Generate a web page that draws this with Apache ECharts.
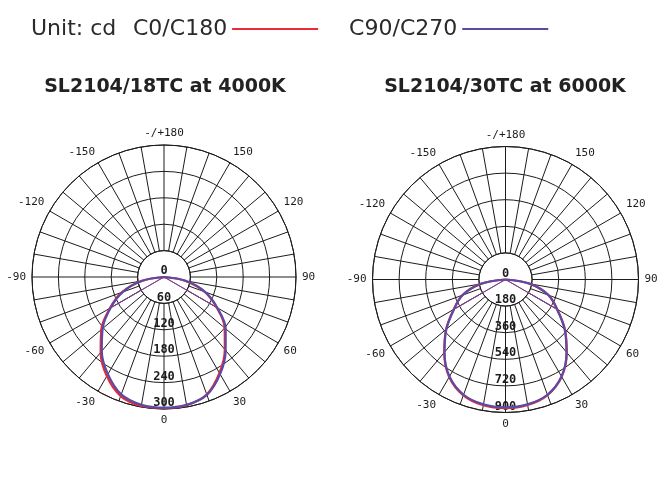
<!DOCTYPE html>
<html>
<head>
<meta charset="utf-8">
<title>SL2104 polar curves</title>
<script src="https://cdn.jsdelivr.net/npm/echarts@6.0.0/dist/echarts.min.js"></script>
<style>
    body { margin: 0; background: #fff; }
    #chart { width: 670px; height: 486px; }
</style>
</head>
<body>
<div id="chart"></div>
<script>
// gamma angles in degrees, 0 = straight down, 90 = right, -/+180 = up
let angles = [-90, -80, -70, -60, -50, -40, -30, -20, -10, 0, 10, 20, 30, 40, 50, 60, 70, 80, 90];

// SL2104/18TC at 4000K (cd)
let left_c0 = [0, 52, 102, 142, 186, 224, 260, 288, 298, 300, 296, 284, 252, 215, 180, 138, 98, 48, 0];
let left_c90 = [0, 50, 100, 140, 182, 220, 255, 284, 295, 297, 295, 285, 255, 218, 183, 140, 100, 50, 0];
// SL2104/30TC at 6000K (cd)
let right_c0 = [0, 170, 310, 405, 525, 645, 762, 834, 864, 870, 862, 832, 760, 645, 525, 405, 310, 170, 0];
let right_c90 = [0, 168, 308, 402, 522, 642, 758, 830, 858, 865, 858, 830, 758, 642, 522, 402, 308, 168, 0];

// straight lines from the centre out to the 60 degree points
let chordAngles = [-60, -90, 90, 60];
let left_chord_c0 = [136, 0, 0, 136];
let left_chord_c90 = [134, 0, 0, 134];
let right_chord_c0 = [400, 0, 0, 400];
let right_chord_c90 = [398, 0, 0, 398];

// ring values
let leftRings = [0, 60, 120, 180, 240, 300];
let rightRings = [0, 180, 360, 540, 720, 900];

// angle tick labels
let angleTickValues = [-180, -150, -120, -90, -60, -30, 0, 30, 60, 90, 120, 150];
let angleTickLabels = ['-/+180', '-150', '-120', '-90', '-60', '-30', '0', '30', '60', '90', '120', '150'];

let titles = ['SL2104/18TC at 4000K', 'SL2104/30TC at 6000K'];
let seriesNames = ['C0/C180', 'C90/C270'];

const red = '#ea2a36';
const purple = '#5b4aa6';
const ink = '#1c1c1c';

// the angle axis runs 0..360 starting at the bottom, so -60 sits at 300
function wrap(a) {
    return a < 0 ? a + 360 : a;
}

function pairs(values, angs) {
    let out = [];
    for (let i = 0; i < values.length; i++) {
        out.push([values[i], wrap(angs[i])]);
    }
    return out;
}

function angleLabel(v) {
    if (v >= 360) return '';
    for (let i = 0; i < angleTickValues.length; i++) {
        if (wrap(angleTickValues[i]) === v) return angleTickLabels[i];
    }
    return '';
}

function mainAngleAxis(polarIndex) {
    return {
        polarIndex: polarIndex,
        type: 'value',
        min: 0,
        max: 360,
        interval: 10,
        startAngle: 270,
        clockwise: false,
        z: 0,
        axisLine: { show: true, lineStyle: { color: ink, width: 1 } },
        axisTick: { show: false },
        splitLine: { show: true, lineStyle: { color: ink, width: 1 } },
        axisLabel: {
            show: true,
            margin: 6,
            color: ink,
            fontFamily: 'DejaVu Sans Mono',
            fontSize: 11,
            formatter: angleLabel
        }
    };
}

// small white disc in the middle, spokes only on the main axes
function innerAngleAxis(polarIndex) {
    return {
        polarIndex: polarIndex,
        type: 'value',
        min: 0,
        max: 360,
        interval: 90,
        startAngle: 270,
        clockwise: false,
        z: 1,
        axisLine: { show: true, lineStyle: { color: ink, width: 1 } },
        axisTick: { show: false },
        axisLabel: { show: false },
        splitLine: { show: true, lineStyle: { color: ink, width: 1 } },
        splitArea: { show: true, areaStyle: { color: ['#ffffff'] } }
    };
}

function mainRadiusAxis(polarIndex, rings) {
    return {
        polarIndex: polarIndex,
        type: 'value',
        min: rings[0],
        max: rings[rings.length - 1],
        interval: rings[1] - rings[0],
        z: 1.5,
        axisLine: { show: false },
        axisTick: { show: false },
        splitLine: { show: true, lineStyle: { color: ink, width: 1 } },
        axisLabel: {
            show: true,
            margin: 0,
            rotate: 0,
            align: 'center',
            verticalAlign: 'bottom',
            color: ink,
            fontFamily: 'DejaVu Sans Mono',
            fontSize: 12,
            fontWeight: 'bold'
        }
    };
}

function innerRadiusAxis(polarIndex) {
    return {
        polarIndex: polarIndex,
        type: 'value',
        min: 0,
        max: 1,
        axisLine: { show: false },
        axisTick: { show: false },
        axisLabel: { show: false },
        splitLine: { show: false }
    };
}

function curve(name, polarIndex, values, color) {
    return {
        name: name,
        type: 'line',
        coordinateSystem: 'polar',
        polarIndex: polarIndex,
        data: pairs(values, angles),
        smooth: 0.35,
        showSymbol: false,
        symbol: 'none',
        z: 3,
        itemStyle: { color: color },
        lineStyle: { color: color, width: 2.2 }
    };
}

function chord(name, polarIndex, values, color) {
    return {
        name: name,
        type: 'line',
        coordinateSystem: 'polar',
        polarIndex: polarIndex,
        data: pairs(values, chordAngles),
        showSymbol: false,
        symbol: 'none',
        z: 3,
        itemStyle: { color: color },
        lineStyle: { color: color, width: 1 }
    };
}

let chart = echarts.init(document.getElementById('chart'));
chart.setOption({
    animation: false,
    backgroundColor: '#ffffff',
    title: [
        {
            text: 'Unit: cd',
            left: 31,
            top: 18,
            padding: 0,
            textStyle: { fontFamily: 'DejaVu Sans', fontSize: 22, fontWeight: 'normal', color: '#2a2a2a' }
        },
        {
            text: titles[0],
            left: 165,
            top: 78,
            textAlign: 'center',
            padding: 0,
            textStyle: { fontFamily: 'DejaVu Sans', fontSize: 19, fontWeight: 'bold', color: '#222' }
        },
        {
            text: titles[1],
            left: 505,
            top: 78,
            textAlign: 'center',
            padding: 0,
            textStyle: { fontFamily: 'DejaVu Sans', fontSize: 19, fontWeight: 'bold', color: '#222' }
        }
    ],
    legend: {
        data: seriesNames,
        left: 133,
        top: 18,
        padding: 0,
        align: 'right',
        icon: 'rect',
        itemWidth: 86,
        itemHeight: 2,
        itemGap: 31,
        selectedMode: false,
        textStyle: {
            fontFamily: 'DejaVu Sans',
            fontSize: 22,
            fontWeight: 'normal',
            color: '#2a2a2a',
            padding: [0, 0, 12, 0]
        }
    },
    polar: [
        { center: [164, 277], radius: 132 },
        { center: [164, 277], radius: 26.4 },
        { center: [505.5, 279.5], radius: 133 },
        { center: [505.5, 279.5], radius: 26.6 }
    ],
    angleAxis: [
        mainAngleAxis(0),
        innerAngleAxis(1),
        mainAngleAxis(2),
        innerAngleAxis(3)
    ],
    radiusAxis: [
        mainRadiusAxis(0, leftRings),
        innerRadiusAxis(1),
        mainRadiusAxis(2, rightRings),
        innerRadiusAxis(3)
    ],
    series: [
        curve(seriesNames[0], 0, left_c0, red),
        curve(seriesNames[1], 0, left_c90, purple),
        chord(seriesNames[0], 0, left_chord_c0, red),
        chord(seriesNames[1], 0, left_chord_c90, purple),
        curve(seriesNames[0], 2, right_c0, red),
        curve(seriesNames[1], 2, right_c90, purple),
        chord(seriesNames[0], 2, right_chord_c0, red),
        chord(seriesNames[1], 2, right_chord_c90, purple)
    ]
});
</script>
</body>
</html>
